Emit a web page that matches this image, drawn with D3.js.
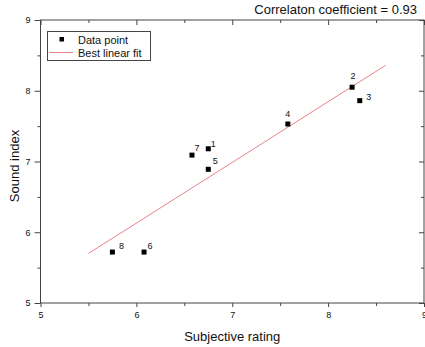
<!DOCTYPE html>
<html>
<head>
<meta charset="utf-8">
<script src="https://cdn.jsdelivr.net/npm/d3@7"></script>
<style>
  body { margin: 0; background: #fff; }
  text { font-family: "Liberation Sans", Arial, sans-serif; fill: #111; }
</style>
</head>
<body>
<div id="chart"></div>
<script>
// data
const pointIds = ["1", "2", "3", "4", "5", "6", "7", "8"];
const subjective = [6.75, 8.25, 8.33, 7.58, 6.75, 6.08, 6.58, 5.75];
const soundIndex = [7.18, 8.05, 7.86, 7.53, 6.89, 5.72, 7.09, 5.72];
const fitX = [5.5, 8.6];
const fitY = [5.7, 8.36];
const xTicks = [5, 6, 7, 8, 9];
const yTicks = [5, 6, 7, 8, 9];
const correlation = 0.93;

// label offsets (layout only)
const labelOffset = {
  "1": [5, -5], "2": [1, -11], "3": [9, -4], "4": [0, -10],
  "5": [7, -8], "6": [6, -6], "7": [5, -7], "8": [9, -6]
};

const width = 425, height = 347;
const margin = { top: 20, right: 1, bottom: 44, left: 40.5 };

const svg = d3.select("#chart").append("svg")
  .attr("width", width).attr("height", height);

const x = d3.scaleLinear().domain([5, 9]).range([margin.left, width - margin.right]);
const y = d3.scaleLinear().domain([5, 9]).range([height - margin.bottom, margin.top]);

const axisColor = "#444";

// frame
svg.append("rect")
  .attr("x", x(5)).attr("y", y(9))
  .attr("width", x(9) - x(5)).attr("height", y(5) - y(9))
  .attr("fill", "none").attr("stroke", axisColor).attr("stroke-width", 1);

const minorX = d3.range(5.5, 9, 1);
const minorY = d3.range(5.5, 9, 1);

function styleAxis(g) {
  g.select(".domain").remove();
  g.selectAll("line").attr("stroke", axisColor);
  g.selectAll("text").style("font-size", "9px").attr("fill", "#111");
}

// bottom
svg.append("g").attr("transform", `translate(0,${y(5)})`)
  .call(d3.axisBottom(x).tickValues(xTicks).tickSize(4).tickPadding(5).tickFormat(d3.format("d")))
  .call(styleAxis);
svg.append("g").attr("transform", `translate(0,${y(5)})`)
  .call(d3.axisBottom(x).tickValues(minorX).tickSize(3).tickFormat(""))
  .call(styleAxis);
// left
svg.append("g").attr("transform", `translate(${x(5)},0)`)
  .call(d3.axisLeft(y).tickValues(yTicks).tickSize(6).tickPadding(4).tickFormat(d3.format("d")))
  .call(styleAxis);
svg.append("g").attr("transform", `translate(${x(5)},0)`)
  .call(d3.axisLeft(y).tickValues(minorY).tickSize(3).tickFormat(""))
  .call(styleAxis);
// top (inward)
svg.append("g").attr("transform", `translate(0,${y(9)})`)
  .call(d3.axisBottom(x).tickValues(xTicks).tickSize(5).tickFormat(""))
  .call(styleAxis);
svg.append("g").attr("transform", `translate(0,${y(9)})`)
  .call(d3.axisBottom(x).tickValues(minorX).tickSize(3).tickFormat(""))
  .call(styleAxis);
// right (inward)
svg.append("g").attr("transform", `translate(${x(9)},0)`)
  .call(d3.axisLeft(y).tickValues(yTicks).tickSize(5).tickFormat(""))
  .call(styleAxis);
svg.append("g").attr("transform", `translate(${x(9)},0)`)
  .call(d3.axisLeft(y).tickValues(minorY).tickSize(3).tickFormat(""))
  .call(styleAxis);

// fit line
const fit = fitX.map((v, i) => [v, fitY[i]]);
svg.append("path")
  .datum(fit)
  .attr("d", d3.line().x(d => x(d[0])).y(d => y(d[1])))
  .attr("fill", "none").attr("stroke", "#e8838a").attr("stroke-width", 1);

// points
const pts = pointIds.map((id, i) => ({ id, sx: subjective[i], sy: soundIndex[i] }));
const size = 5;
svg.append("g").selectAll("rect").data(pts).join("rect")
  .attr("x", d => x(d.sx) - size / 2).attr("y", d => y(d.sy) - size / 2)
  .attr("width", size).attr("height", size).attr("fill", "#000");

svg.append("g").selectAll("text").data(pts).join("text")
  .attr("x", d => x(d.sx) + labelOffset[d.id][0])
  .attr("y", d => y(d.sy) + labelOffset[d.id][1])
  .attr("text-anchor", "middle").attr("dy", "0.35em")
  .style("font-size", "9px")
  .text(d => d.id);

// axis titles
svg.append("text")
  .attr("x", (x(5) + x(9)) / 2).attr("y", 341)
  .attr("text-anchor", "middle").style("font-size", "13px")
  .text("Subjective rating");
svg.append("text")
  .attr("transform", `translate(19,166) rotate(-90)`)
  .attr("text-anchor", "middle").style("font-size", "13px")
  .text("Sound index");

// correlation text
svg.append("text")
  .attr("x", 417).attr("y", 14)
  .attr("text-anchor", "end").style("font-size", "13px")
  .text("Correlaton coefficient = " + correlation.toFixed(2));

// legend
const lg = svg.append("g");
lg.append("rect")
  .attr("x", 47.5).attr("y", 31.5).attr("width", 103).attr("height", 29)
  .attr("fill", "#fff").attr("stroke", axisColor);
lg.append("rect")
  .attr("x", 59.5).attr("y", 37).attr("width", 4.5).attr("height", 4.5).attr("fill", "#000");
lg.append("text").attr("x", 78).attr("y", 43.5).style("font-size", "11px").text("Data point");
lg.append("line")
  .attr("x1", 49).attr("x2", 73).attr("y1", 52.5).attr("y2", 52.5)
  .attr("stroke", "#e8838a");
lg.append("text").attr("x", 78).attr("y", 57).style("font-size", "11px").text("Best linear fit");
</script>
</body>
</html>
